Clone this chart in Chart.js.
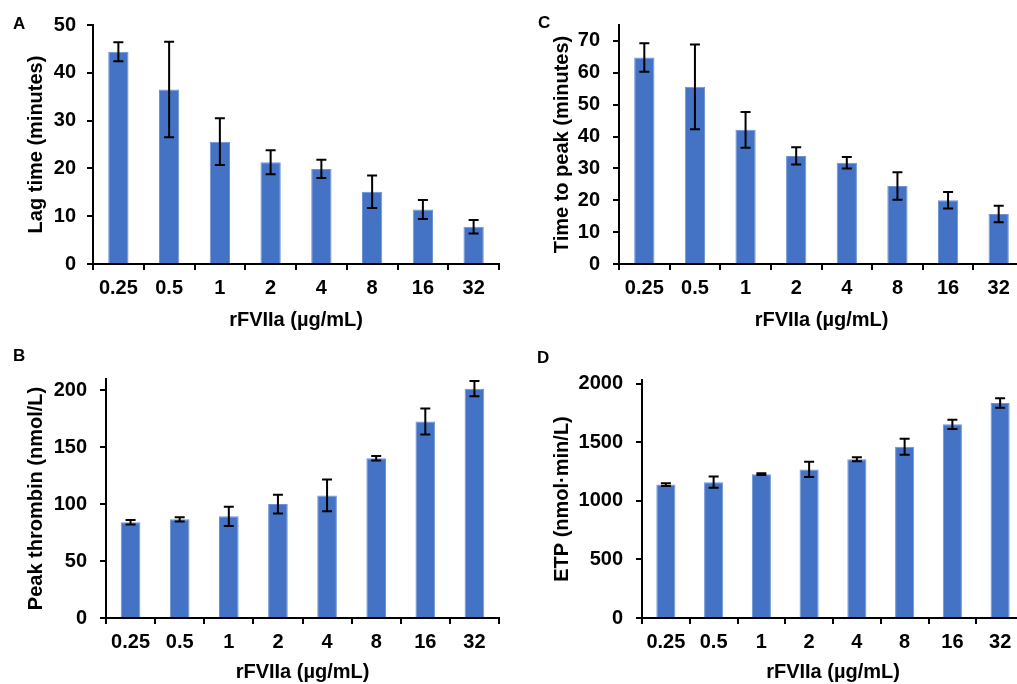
<!DOCTYPE html>
<html>
<head>
<meta charset="utf-8">
<title>rFVIIa thrombin generation</title>
<script src="https://cdn.jsdelivr.net/npm/chart.js@4/dist/chart.umd.min.js"></script>
<style>
    html, body { margin: 0; padding: 0; background: #fff; overflow: hidden; }
    body { width: 1017px; height: 684px; position: relative; }
    .panel { position: absolute; }
    .panel-letter {
        position: absolute;
        font-family: "Liberation Sans", Arial, sans-serif;
        font-weight: bold;
        font-size: 17px;
        line-height: 17px;
        color: #000;
    }
</style>
</head>
<body>
<div class="panel" style="left:0;top:0;width:505px;height:340px;"><canvas id="chartA"></canvas></div>
<div class="panel" style="left:505px;top:0;width:525px;height:340px;"><canvas id="chartC"></canvas></div>
<div class="panel" style="left:0;top:340px;width:505px;height:344px;"><canvas id="chartB"></canvas></div>
<div class="panel" style="left:505px;top:340px;width:525px;height:344px;"><canvas id="chartD"></canvas></div>

<div class="panel-letter" style="left:13px;top:15px;">A</div>
<div class="panel-letter" style="left:538px;top:14px;">C</div>
<div class="panel-letter" style="left:13px;top:347px;">B</div>
<div class="panel-letter" style="left:537px;top:349px;">D</div>

<script>
    // rFVIIa doses (µg/mL)
    var doses = ['0.25', '0.5', '1', '2', '4', '8', '16', '32'];

    // A - lag time (minutes)
    var lagTime = [44.4, 36.5, 25.6, 21.3, 19.9, 15.1, 11.4, 7.8];
    var lagTimeErr = [2.0, 10.0, 4.9, 2.5, 1.9, 3.4, 2.0, 1.4];
    var lagTimeTicks = [0, 10, 20, 30, 40, 50];

    // C - time to peak (minutes)
    var timeToPeak = [64.8, 55.6, 42.1, 33.9, 31.8, 24.5, 20.0, 15.7];
    var timeToPeakErr = [4.5, 13.3, 5.6, 2.7, 1.8, 4.3, 2.6, 2.6];
    var timeToPeakTicks = [0, 10, 20, 30, 40, 50, 60, 70];

    // B - peak thrombin (nmol/L)
    var peakThrombin = [84.1, 86.7, 89.3, 100.1, 107.7, 140.4, 172.6, 201.5];
    var peakThrombinErr = [2.0, 1.8, 8.5, 8.2, 14.0, 2.0, 11.4, 6.7];
    var peakThrombinTicks = [0, 50, 100, 150, 200];

    // D - ETP (nmol·min/L)
    var etp = [1138, 1158, 1227, 1267, 1355, 1461, 1652, 1834];
    var etpErr = [12, 48, 8, 65, 17, 68, 40, 40];
    var etpTicks = [0, 500, 1000, 1500, 2000];

    Chart.defaults.font.family = '"Liberation Sans", Arial, sans-serif';
    Chart.defaults.font.weight = 'bold';
    Chart.defaults.font.size = 20;
    Chart.defaults.color = '#000';

    // draws the +/- error bars on top of each bar
    var errorBarPlugin = {
        id: 'errorBars',
        afterDatasetsDraw: function (chart) {
            var ctx = chart.ctx;
            var yScale = chart.scales.y;
            var meta = chart.getDatasetMeta(0);
            var values = chart.data.datasets[0].data;
            var errors = chart.data.datasets[0].errors;
            ctx.save();
            ctx.strokeStyle = '#000';
            ctx.lineWidth = 2;
            for (var i = 0; i < values.length; i++) {
                var x = meta.data[i].x;
                var yTop = yScale.getPixelForValue(values[i] + errors[i]);
                var yBot = yScale.getPixelForValue(values[i] - errors[i]);
                ctx.beginPath();
                ctx.moveTo(x, yTop);
                ctx.lineTo(x, yBot);
                ctx.moveTo(x - 5, yTop);
                ctx.lineTo(x + 5, yTop);
                ctx.moveTo(x - 5, yBot);
                ctx.lineTo(x + 5, yBot);
                ctx.stroke();
            }
            ctx.restore();
        }
    };

    function makeChart(id, cfg) {
        var ctx = document.getElementById(id);
        var parent = ctx.parentNode;
        ctx.width = parent.offsetWidth;
        ctx.height = parent.offsetHeight;

        var config = {
            type: 'bar',
            data: {
                labels: doses,
                datasets: [{
                    data: cfg.values,
                    errors: cfg.errors,
                    backgroundColor: '#4472C4',
                    borderColor: '#6d93d3',
                    borderWidth: 1,
                    categoryPercentage: 1.0,
                    barPercentage: 0.4
                }]
            },
            options: {
                responsive: false,
                animation: false,
                devicePixelRatio: 1,
                layout: {
                    padding: { top: cfg.padTop, right: 6, left: 0, bottom: 0 }
                },
                plugins: {
                    legend: { display: false },
                    tooltip: { enabled: false }
                },
                scales: {
                    x: {
                        afterFit: function (scale) { scale.height = cfg.xHeight; },
                        grid: {
                            offset: true,
                            drawOnChartArea: false,
                            color: '#000',
                            lineWidth: 2,
                            tickLength: 6
                        },
                        border: { display: true, color: '#000', width: 2 },
                        ticks: { padding: 6, maxRotation: 0, autoSkip: false },
                        title: {
                            display: true,
                            text: 'rFVIIa (µg/mL)',
                            padding: { top: 0, bottom: cfg.xTitlePad }
                        }
                    },
                    y: {
                        min: 0,
                        max: cfg.max,
                        afterFit: function (scale) { scale.width = cfg.yWidth; },
                        // use the tick list
                        afterBuildTicks: function (scale) {
                            scale.ticks = cfg.ticks.map(function (v) { return { value: v }; });
                        },
                        grid: {
                            drawOnChartArea: false,
                            color: '#000',
                            lineWidth: 2,
                            tickLength: 6
                        },
                        border: { display: true, color: '#000', width: 2 },
                        ticks: {
                            padding: cfg.yTickPad,
                            callback: function (value) { return String(value); }
                        },
                        title: {
                            display: true,
                            text: cfg.yTitle,
                            padding: { top: cfg.yTitlePad, bottom: 0 }
                        }
                    }
                }
            },
            plugins: [errorBarPlugin]
        };
        return new Chart(ctx, config);
    }

    makeChart('chartA', {
        values: lagTime, errors: lagTimeErr, ticks: lagTimeTicks, max: 50,
        yTitle: 'Lag time (minutes)', yWidth: 93, xHeight: 76,
        padTop: 25, xTitlePad: 8, yTitlePad: 24, yTickPad: 11
    });

    makeChart('chartC', {
        values: timeToPeak, errors: timeToPeakErr, ticks: timeToPeakTicks, max: 75,
        yTitle: 'Time to peak (minutes)', yWidth: 114, xHeight: 76,
        padTop: 25, xTitlePad: 8, yTitlePad: 45, yTickPad: 13
    });

    makeChart('chartB', {
        values: peakThrombin, errors: peakThrombinErr, ticks: peakThrombinTicks, max: 210,
        yTitle: 'Peak thrombin (nmol/L)', yWidth: 106, xHeight: 66,
        padTop: 39, xTitlePad: 0, yTitlePad: 24, yTickPad: 13
    });

    makeChart('chartD', {
        values: etp, errors: etpErr, ticks: etpTicks, max: 2030,
        yTitle: 'ETP (nmol·min/L)', yWidth: 137, xHeight: 66,
        padTop: 40, xTitlePad: 0, yTitlePad: 45, yTickPad: 13
    });
</script>
</body>
</html>
